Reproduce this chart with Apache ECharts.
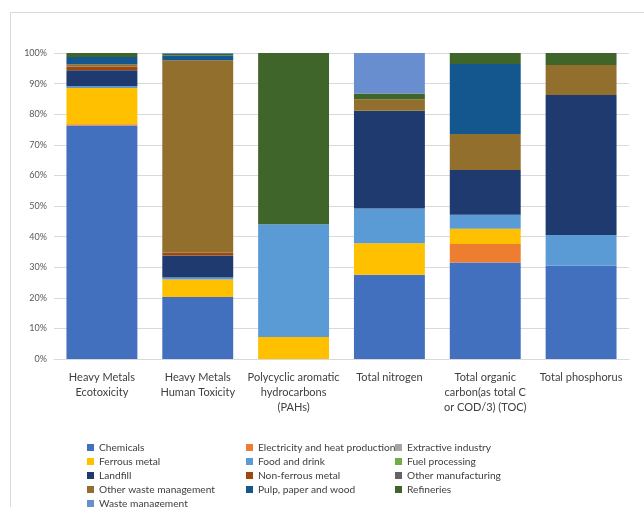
<!DOCTYPE html>
<html>
<head>
<meta charset="utf-8">
<script src="https://cdn.jsdelivr.net/npm/echarts@6/dist/echarts.min.js"></script>
<style>
  html, body { margin: 0; padding: 0; background: #ffffff; }
  #chart { width: 644px; height: 507px; }
</style>
</head>
<body>
<div id="chart"></div>
<script>
// Pollutant categories along the x axis
const categories = [
  'Heavy Metals\nEcotoxicity',
  'Heavy Metals\nHuman Toxicity',
  'Polycyclic aromatic\nhydrocarbons\n(PAHs)',
  'Total nitrogen',
  'Total organic\ncarbon(as total C\nor COD/3) (TOC)',
  'Total phosphorus'
];

// Share of each sector (%) per pollutant category
const chemicals          = [76.3, 20.3, 0,    27.5, 31.5, 30.5];
const electricity        = [0.4,  0,    0,    0,    6.1,  0];
const extractive         = [0,    0,    0,    0,    0,    0];
const ferrousMetal       = [11.9, 5.7,  7.2,  10.3, 5.0,  0];
const foodAndDrink       = [0.5,  0.6,  36.8, 11.4, 4.5,  10.0];
const fuelProcessing     = [0,    0,    0,    0,    0,    0];
const landfill           = [5.3,  7.2,  0,    31.9, 14.7, 45.8];
const nonFerrousMetal    = [1.2,  1.0,  0,    0,    0,    0];
const otherManufacturing = [0,    0,    0,    0,    0,    0];
const otherWaste         = [0.7,  62.8, 0,    3.8,  11.7, 9.8];
const pulpPaperWood      = [2.4,  1.6,  0,    0,    22.9, 0];
const refineries         = [1.3,  0.5,  56.0, 1.9,  3.6,  3.9];
const wasteManagement    = [0,    0.3,  0,    13.2, 0,    0];

// Y axis tick values
const yTicks = [0, 10, 20, 30, 40, 50, 60, 70, 80, 90, 100];

const sectors = [
  { name: 'Chemicals', data: chemicals, color: '#4270BE' },
  { name: 'Electricity and heat production', data: electricity, color: '#ED7D31' },
  { name: 'Extractive industry', data: extractive, color: '#A5A5A5' },
  { name: 'Ferrous metal', data: ferrousMetal, color: '#FFC000' },
  { name: 'Food and drink', data: foodAndDrink, color: '#5B9BD5' },
  { name: 'Fuel processing', data: fuelProcessing, color: '#70AD47' },
  { name: 'Landfill', data: landfill, color: '#1F3A6E' },
  { name: 'Non-ferrous metal', data: nonFerrousMetal, color: '#9E480E' },
  { name: 'Other manufacturing', data: otherManufacturing, color: '#636363' },
  { name: 'Other waste management', data: otherWaste, color: '#926F2C' },
  { name: 'Pulp, paper and wood', data: pulpPaperWood, color: '#14568E' },
  { name: 'Refineries', data: refineries, color: '#3F652B' },
  { name: 'Waste management', data: wasteManagement, color: '#698ED0' }
];

const font = 'Lato, "Open Sans", sans-serif';
const textColor = '#404040';

// Legend laid out as three columns, filled row by row
const columns = [[], [], []];
sectors.forEach((s, i) => columns[i % 3].push(s.name));
const columnX = [87, 246, 395];
const legends = columns.map((names, i) => ({
  orient: 'vertical',
  left: columnX[i],
  top: 442,
  height: 90,
  itemWidth: 7,
  itemHeight: 7,
  itemGap: 3,
  icon: 'rect',
  data: names,
  selectedMode: false,
  padding: 0,
  textStyle: { fontFamily: font, fontSize: 10.2, color: textColor, lineHeight: 11 }
}));

const chart = echarts.init(document.getElementById('chart'), null, { renderer: 'canvas' });

chart.setOption({
  animation: false,
  backgroundColor: '#ffffff',
  graphic: [{
    type: 'rect',
    shape: { x: 10.5, y: 12.5, width: 700, height: 600 },
    style: { fill: 'none', stroke: '#d9d9d9', lineWidth: 1 },
    silent: true
  }],
  legend: legends,
  grid: { left: 54, right: 15, top: 53, bottom: 148, containLabel: false },
  xAxis: {
    type: 'category',
    data: categories,
    axisLine: { lineStyle: { color: '#d9d9d9' } },
    axisTick: { show: false },
    axisLabel: {
      interval: 0,
      margin: 11,
      fontFamily: font,
      fontSize: 11,
      lineHeight: 15,
      color: textColor
    }
  },
  yAxis: {
    type: 'value',
    min: yTicks[0],
    max: yTicks[yTicks.length - 1],
    interval: yTicks[1] - yTicks[0],
    axisLine: { show: false },
    axisTick: { show: false },
    splitLine: { lineStyle: { color: '#d9d9d9' } },
    axisLabel: {
      formatter: '{value}%',
      margin: 7,
      fontFamily: font,
      fontSize: 9,
      color: '#595959'
    }
  },
  series: sectors.map(s => ({
    name: s.name,
    type: 'bar',
    stack: 'total',
    data: s.data,
    barCategoryGap: '26%',
    itemStyle: { color: s.color },
    emphasis: { disabled: true }
  }))
});
</script>
</body>
</html>
